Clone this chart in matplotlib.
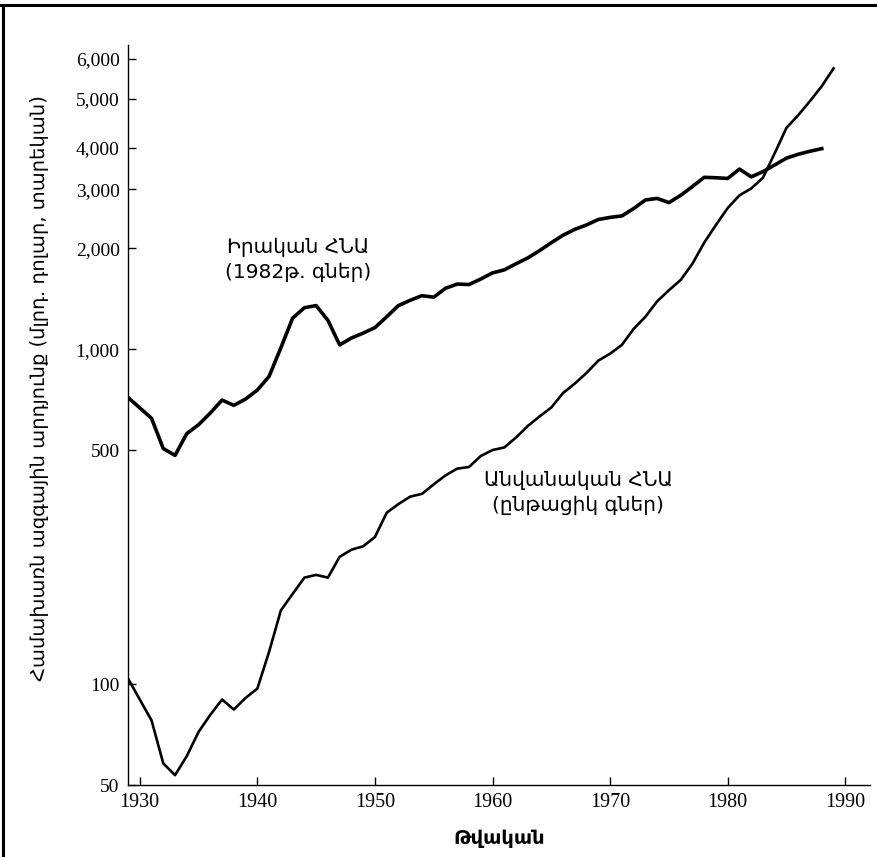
import numpy as np
import matplotlib
matplotlib.use("Agg")
import matplotlib.pyplot as plt
from matplotlib.ticker import FixedLocator, NullLocator
from matplotlib.lines import Line2D

# ---------------- data (billions of dollars) ----------------
years_real = list(range(1929, 1989))
real_gdp = [718, 668, 622, 505, 482, 560, 595, 645, 705, 680, 710, 755, 830, 1010,
            1238, 1330, 1350, 1220, 1030, 1080, 1117, 1160, 1250, 1350, 1400, 1445,
            1430, 1520, 1565, 1560, 1620, 1690, 1725, 1800, 1873, 1970, 2080, 2190,
            2280, 2350, 2440, 2475, 2500, 2630, 2790, 2820, 2740, 2880, 3060, 3260,
            3250, 3235, 3450, 3270, 3390, 3550, 3720, 3820, 3900, 3970]

years_nom = list(range(1929, 1990))
nominal_gdp = [104, 90, 78, 58, 53.5, 61, 72, 81, 90, 84, 91, 97, 125, 166, 186, 208,
               212, 208, 240, 252, 258, 275, 325, 345, 363, 370, 395, 420, 440, 445,
               480, 500, 509, 545, 590, 630, 670, 740, 790, 850, 925, 970, 1030, 1150,
               1250, 1390, 1500, 1610, 1800, 2080, 2350, 2640, 2880, 3020, 3250, 3850,
               4380, 4640, 4950, 5300, 5750]

y_ticks = [50, 100, 500, 1000, 2000, 3000, 4000, 5000, 6000]
y_tick_labels = ["50", "100", "500", "1,000", "2,000", "3,000", "4,000", "5,000", "6,000"]
x_ticks = [1930, 1940, 1950, 1960, 1970, 1980, 1990]

label_real = "Իրական ՀՆԱ\n(1982թ. գներ)"
label_nom = "Անվանական ՀՆԱ\n(ընթացիկ գներ)"
x_title = "Թվական"
y_title = "Համախառն ազգային արդյունք (մլրդ. դոլար, տարեկան)"

# ---------------- scale: logarithmic, stretched above 4,000 as in the original ----------------
BREAK = 4000.0
STRETCH = 1.5


def fwd(v):
    v = np.clip(np.asarray(v, dtype=float), 1e-6, None)
    lv = np.log10(v)
    lb = np.log10(BREAK)
    return np.where(lv <= lb, lv, lb + STRETCH * (lv - lb))


def inv(t):
    t = np.asarray(t, dtype=float)
    lb = np.log10(BREAK)
    return np.where(t <= lb, 10 ** t, 10 ** (lb + (t - lb) / STRETCH))


plt.rcParams['font.family'] = ['DejaVu Sans']

fig = plt.figure(figsize=(8.78, 8.57), dpi=100)
ax = fig.add_axes([128 / 878, 72 / 857, 742 / 878, 740 / 857])

ax.plot(years_real, real_gdp, color="black", lw=2.6, solid_joinstyle="round")
ax.plot(years_nom, nominal_gdp, color="black", lw=1.9, solid_joinstyle="round")

ax.set_yscale("function", functions=(fwd, inv))
ax.set_ylim(50, 6400)
ax.set_xlim(1929, 1992.1)

ax.yaxis.set_major_locator(FixedLocator(y_ticks))
ax.yaxis.set_minor_locator(NullLocator())
ax.set_yticklabels(y_tick_labels, fontsize=14, family="Liberation Serif")
ax.set_xticks(x_ticks)
ax.set_xticklabels([str(x) for x in x_ticks], fontsize=14.5, family="Liberation Serif")
ax.tick_params(axis="both", direction="in", length=6, width=1, pad=6)

for s in ("top", "right"):
    ax.spines[s].set_visible(False)
ax.spines["left"].set_linewidth(1.0)
ax.spines["bottom"].set_linewidth(1.0)

ax.text(1943.5, 1850, label_real, ha="center", va="center", fontsize=14.5,
        linespacing=1.35)
ax.text(1967.3, 373, label_nom, ha="center", va="center", fontsize=14.5,
        linespacing=1.35)

ax.set_xlabel(x_title, fontsize=14, fontweight="bold", labelpad=12)
fig.text(40 / 878, 1 - 388 / 857, y_title, rotation=90, ha="center", va="center",
         fontsize=14)

# frame lines at the left and top of the page, as in the scan
fig.add_artist(Line2D([3 / 878, 3 / 878], [0, 1 - 5 / 857], color="black", lw=2.2,
                      transform=fig.transFigure))
fig.add_artist(Line2D([0, 1], [1 - 5 / 857, 1 - 5 / 857], color="black", lw=2.2,
                      transform=fig.transFigure))

fig.savefig("out.png", dpi=100, facecolor="white")
